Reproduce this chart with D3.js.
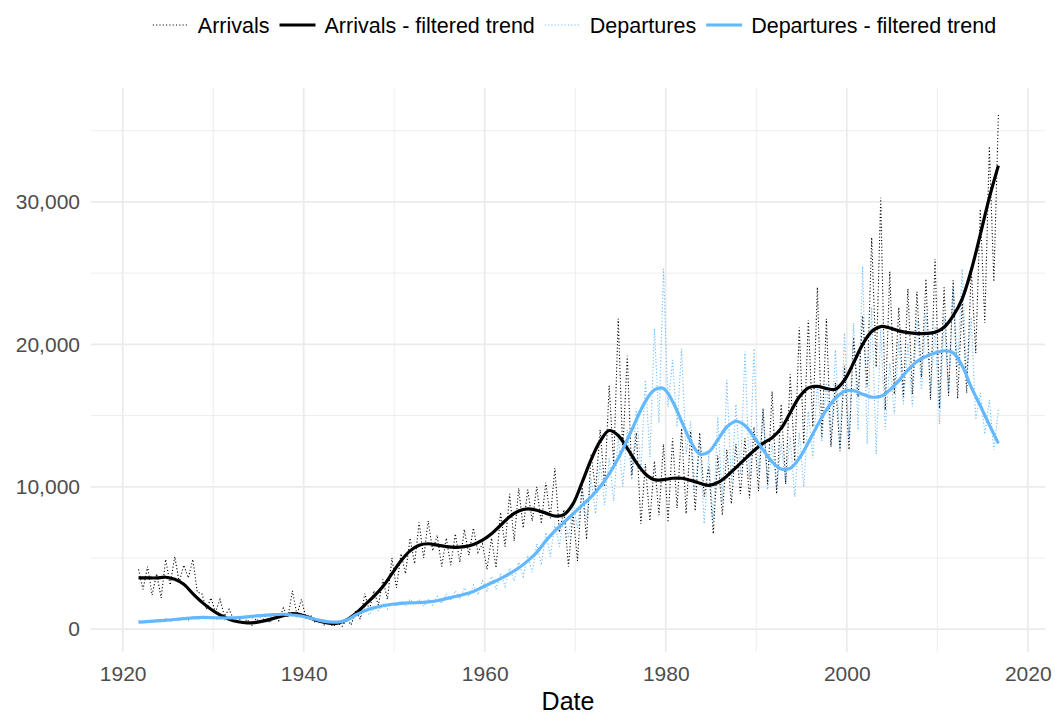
<!DOCTYPE html>
<html>
<head>
<meta charset="utf-8">
<script src="https://cdn.jsdelivr.net/npm/d3@7"></script>
<style>
  html, body { margin: 0; padding: 0; background: #ffffff; }
  svg { display: block; font-family: "Liberation Sans", Arial, sans-serif; }
</style>
</head>
<body>
<svg id="chart" width="1055" height="717"></svg>
<script>
// Quarterly-sampled migration counts, stored as two readings a year
// (seasonal high, then seasonal low), starting 1921.75, step 0.5 year.
const seriesStart = 1921.75;
const seriesStep = 0.5;

const arrivals = [
  4200, 2800, 4400, 2400, 3900, 2200, 4900, 3100, 5100, 3300,   // 1921-1925
  4500, 3600, 4900, 2600, 2500, 1400, 2200, 1200, 2100, 900,    // 1926-1930
  1400, 700, 900, 400, 700, 250, 750, 400, 900, 450,            // 1931-1935
  1100, 600, 1500, 800, 2700, 1000, 2100, 800, 1000, 500,       // 1936-1940
  700, 300, 500, 200, 450, 200, 700, 300, 1300, 700,            // 1941-1945
  2500, 1300, 2700, 1700, 3500, 2100, 5000, 2900, 5300, 3900,   // 1946-1950
  6400, 4600, 7500, 5000, 7600, 5500, 6600, 4400, 6400, 4500,   // 1951-1955
  6700, 4700, 7000, 5200, 7100, 5400, 6000, 4200, 6400, 4300,   // 1956-1960
  8200, 5800, 9500, 6200, 9900, 7100, 9800, 7600, 10000, 7400,  // 1961-1965
  10300, 7800, 11300, 6800, 8400, 4400, 8200, 4800, 10200, 6300, // 1966-1970
  12300, 9700, 14000, 10000, 17100, 11500, 21800, 12500, 19200, 10800, // 1971-1975
  13800, 7400, 11600, 7600, 11800, 8000, 13000, 7500, 13400, 8500,     // 1976-1980
  14100, 8100, 13900, 8300, 13800, 9300, 11400, 6700, 12200, 8000,     // 1981-1985
  12600, 8800, 13000, 9500, 13400, 9200, 14200, 9700, 15500, 10200,    // 1986-1990
  16700, 9500, 15800, 10200, 17900, 11800, 21200, 13000, 21700, 14200, // 1991-1995
  24000, 13500, 21800, 12800, 17300, 12500, 18500, 12600, 20500, 16300, // 1996-2000
  22000, 17000, 27500, 18400, 30300, 15400, 25100, 16500, 22600, 16300, // 2001-2005
  23900, 16500, 23700, 17700, 24600, 16100, 26000, 15500, 24000, 16400, // 2006-2010
  24500, 16200, 23000, 16600, 25300, 19400, 29500, 21500, 33900, 24400, // 2011-2015
  36100                                                                // 2016
];

const departures = [
  600, 400, 650, 450, 700, 500, 750, 500, 800, 550,             // 1921-1925
  850, 600, 900, 650, 950, 700, 900, 650, 900, 650,             // 1926-1930
  850, 700, 900, 700, 950, 750, 1000, 800, 1050, 850,           // 1931-1935
  1100, 900, 1150, 900, 1150, 850, 1050, 750, 900, 600,         // 1936-1940
  700, 450, 600, 400, 550, 350, 700, 450, 1100, 800,            // 1941-1945
  1400, 1000, 1600, 1300, 1800, 1400, 1900, 1600, 2000, 1600,   // 1946-1950
  2100, 1700, 2100, 1600, 2100, 1700, 2300, 1800, 2500, 2000,   // 1951-1955
  2700, 2100, 2900, 2300, 3100, 2400, 3400, 2700, 3700, 2800,   // 1956-1960
  3900, 3000, 4300, 3400, 4700, 3700, 5200, 4000, 6000, 4500,   // 1961-1965
  6800, 5100, 7400, 5800, 8100, 6400, 8900, 7100, 9800, 7600,   // 1966-1970
  10600, 8100, 11800, 8700, 12000, 9000, 13500, 10000, 14000, 10500,   // 1971-1975
  15500, 11000, 17500, 12100, 21100, 14500, 25300, 15600, 18900, 14200, // 1976-1980
  19700, 12300, 14600, 9800, 13300, 7400, 12300, 7600, 14900, 9000,    // 1981-1985
  17500, 10200, 15800, 10900, 19500, 10500, 19700, 11000, 15400, 9800, // 1986-1990
  13000, 9900, 13000, 10200, 13500, 9300, 13800, 10000, 15300, 12000,  // 1991-1995
  17200, 13200, 17300, 13000, 19600, 12700, 20800, 13300, 21500, 14000, // 1996-2000
  25500, 13000, 22600, 12300, 21000, 14000, 18700, 15100, 20300, 15800, // 2001-2005
  20100, 15600, 21700, 16800, 22200, 16500, 21200, 14400, 21900, 16500, // 2006-2010
  24000, 18400, 25300, 17700, 21900, 14700, 16600, 13700, 16100, 12600, // 2011-2015
  15400                                                                // 2016
];

// Filtered trends, one value a year starting 1921.75
const trendStart = 1921.75;
const trendStep = 1;

const arrivalsTrend = [
  3600, 3600, 3600, 3650, 3500, 3150, 2500, 1900, 1400, 1000,   // 1921-1930
  700, 520, 440, 480, 600, 780, 950, 1100, 1000, 780,           // 1931-1940
  560, 420, 420, 650, 1100, 1700, 2300, 3000, 3900, 4800,       // 1941-1950
  5500, 5900, 6000, 5900, 5800, 5750, 5800, 5950, 6250, 6700,   // 1951-1960
  7300, 7900, 8300, 8450, 8350, 8150, 7950, 8050, 8800, 10300,  // 1961-1970
  11900, 13200, 13950, 13600, 12700, 11700, 10900, 10500, 10500, 10600, // 1971-1980
  10600, 10450, 10250, 10100, 10300, 10750, 11350, 11950, 12550, 13050, // 1981-1990
  13450, 14100, 15200, 16300, 16950, 17050, 16900, 16850, 17500, 18700, // 1991-2000
  20000, 20900, 21250, 21150, 20950, 20820, 20760, 20770, 20850, 21200, // 2001-2010
  22000, 23200, 25200, 27700, 30300, 32550                             // 2011-2016
];

const departuresTrend = [
  500, 530, 580, 630, 680, 740, 800, 830, 820, 790,             // 1921-1930
  790, 820, 870, 930, 980, 1020, 1050, 1000, 920, 780,          // 1931-1940
  620, 520, 500, 650, 1000, 1300, 1500, 1650, 1750, 1820,       // 1941-1950
  1850, 1870, 1920, 2000, 2150, 2300, 2450, 2650, 2950, 3250,   // 1951-1960
  3550, 3900, 4300, 4800, 5400, 6200, 6900, 7500, 8100, 8700,   // 1961-1970
  9300, 10000, 10900, 12000, 13300, 14700, 16000, 16800, 16900, 16000, // 1971-1980
  14600, 13200, 12300, 12450, 13300, 14200, 14600, 14300, 13500, 12600, // 1981-1990
  11750, 11250, 11300, 12000, 13100, 14300, 15400, 16200, 16700, 16750, // 1991-2000
  16500, 16300, 16350, 16800, 17450, 18200, 18800, 19150, 19400, 19550, // 2001-2010
  19400, 18500, 17000, 15700, 14350, 13050                             // 2011-2016
];

const xMajorTicks = [1920, 1940, 1960, 1980, 2000, 2020];
const xMinorTicks = [1930, 1950, 1970, 1990, 2010];
const yMajorTicks = [0, 10000, 20000, 30000];
const yMinorTicks = [5000, 15000, 25000, 35000];

const legendItems = [
  { label: "Arrivals", color: "#000000", dotted: true },
  { label: "Arrivals - filtered trend", color: "#000000", dotted: false },
  { label: "Departures", color: "#63B8FF", dotted: true },
  { label: "Departures - filtered trend", color: "#63B8FF", dotted: false }
];

const blue = "#63B8FF";
const svg = d3.select("#chart");

const panel = { left: 91, right: 1045, top: 88, bottom: 652 };

const x = d3.scaleLinear().domain([1916.5, 2021.9]).range([panel.left, panel.right]);
const y = d3.scaleLinear().domain([-1600, 38000]).range([panel.bottom, panel.top]);

// Grid
const grid = svg.append("g");
grid.selectAll(".xminor").data(xMinorTicks).join("line")
  .attr("x1", d => x(d)).attr("x2", d => x(d))
  .attr("y1", panel.top).attr("y2", panel.bottom)
  .attr("stroke", "#ebebeb").attr("stroke-width", 0.9);
grid.selectAll(".yminor").data(yMinorTicks).join("line")
  .attr("y1", d => y(d)).attr("y2", d => y(d))
  .attr("x1", panel.left).attr("x2", panel.right)
  .attr("stroke", "#ebebeb").attr("stroke-width", 0.9);
grid.selectAll(".xmajor").data(xMajorTicks).join("line")
  .attr("x1", d => x(d)).attr("x2", d => x(d))
  .attr("y1", panel.top).attr("y2", panel.bottom)
  .attr("stroke", "#ebebeb").attr("stroke-width", 1.8);
grid.selectAll(".ymajor").data(yMajorTicks).join("line")
  .attr("y1", d => y(d)).attr("y2", d => y(d))
  .attr("x1", panel.left).attr("x2", panel.right)
  .attr("stroke", "#ebebeb").attr("stroke-width", 1.8);

// Axes (labels only, no domain lines or tick marks)
const fmt = d3.format(",");
const yAxis = d3.axisLeft(y).tickValues(yMajorTicks).tickFormat(fmt).tickSize(0).tickPadding(0);
const gy = svg.append("g").attr("transform", `translate(${panel.left - 11},0)`).call(yAxis);
gy.select(".domain").remove();
gy.selectAll("text").attr("font-size", 21).attr("fill", "#4d4d4d")
  .attr("font-family", "Liberation Sans, Arial, sans-serif");

const xAxis = d3.axisBottom(x).tickValues(xMajorTicks).tickFormat(d3.format("d")).tickSize(0).tickPadding(0);
const gx = svg.append("g").attr("transform", `translate(0,${panel.bottom + 14})`).call(xAxis);
gx.select(".domain").remove();
gx.selectAll("text").attr("font-size", 21).attr("fill", "#4d4d4d")
  .attr("font-family", "Liberation Sans, Arial, sans-serif");

svg.append("text")
  .attr("x", (panel.left + panel.right) / 2).attr("y", 710)
  .attr("text-anchor", "middle").attr("font-size", 25).attr("fill", "#000")
  .text("Date");

// Lines
const rawLine = d3.line()
  .x((d, i) => x(seriesStart + i * seriesStep))
  .y(d => y(d));
const trendLine = d3.line()
  .x((d, i) => x(trendStart + i * trendStep))
  .y(d => y(d))
  .curve(d3.curveCatmullRom.alpha(0.5));

svg.append("path").datum(departures).attr("d", rawLine)
  .attr("fill", "none").attr("stroke", blue).attr("stroke-width", 1.1)
  .attr("stroke-dasharray", "1.1 2.2");
svg.append("path").datum(arrivals).attr("d", rawLine)
  .attr("fill", "none").attr("stroke", "#000").attr("stroke-width", 1.1)
  .attr("stroke-dasharray", "1.1 2.2");
svg.append("path").datum(arrivalsTrend).attr("d", trendLine)
  .attr("fill", "none").attr("stroke", "#000").attr("stroke-width", 3.2)
  .attr("stroke-linejoin", "round");
svg.append("path").datum(departuresTrend).attr("d", trendLine)
  .attr("fill", "none").attr("stroke", blue).attr("stroke-width", 3.2)
  .attr("stroke-linejoin", "round");

// Legend across the top
const legend = svg.append("g");
const keyW = 36, keyGap = 9, itemGap = 10;
let cursor = 0;
legendItems.forEach(item => {
  const g = legend.append("g");
  g.append("line").attr("x1", 0).attr("x2", keyW).attr("y1", 0).attr("y2", 0)
    .attr("stroke", item.color)
    .attr("stroke-width", item.dotted ? 1.1 : 3.2)
    .attr("stroke-dasharray", item.dotted ? "1.1 2.2" : null);
  const t = g.append("text").attr("x", keyW + keyGap).attr("y", 0)
    .attr("dy", "0.35em").attr("font-size", 21.5).attr("fill", "#000").text(item.label);
  const w = keyW + keyGap + t.node().getComputedTextLength();
  g.attr("transform", `translate(${cursor},0)`);
  cursor += w + itemGap;
});
const totalW = cursor - itemGap;
legend.attr("transform", `translate(${574.5 - totalW / 2},25)`);
</script>
</body>
</html>
